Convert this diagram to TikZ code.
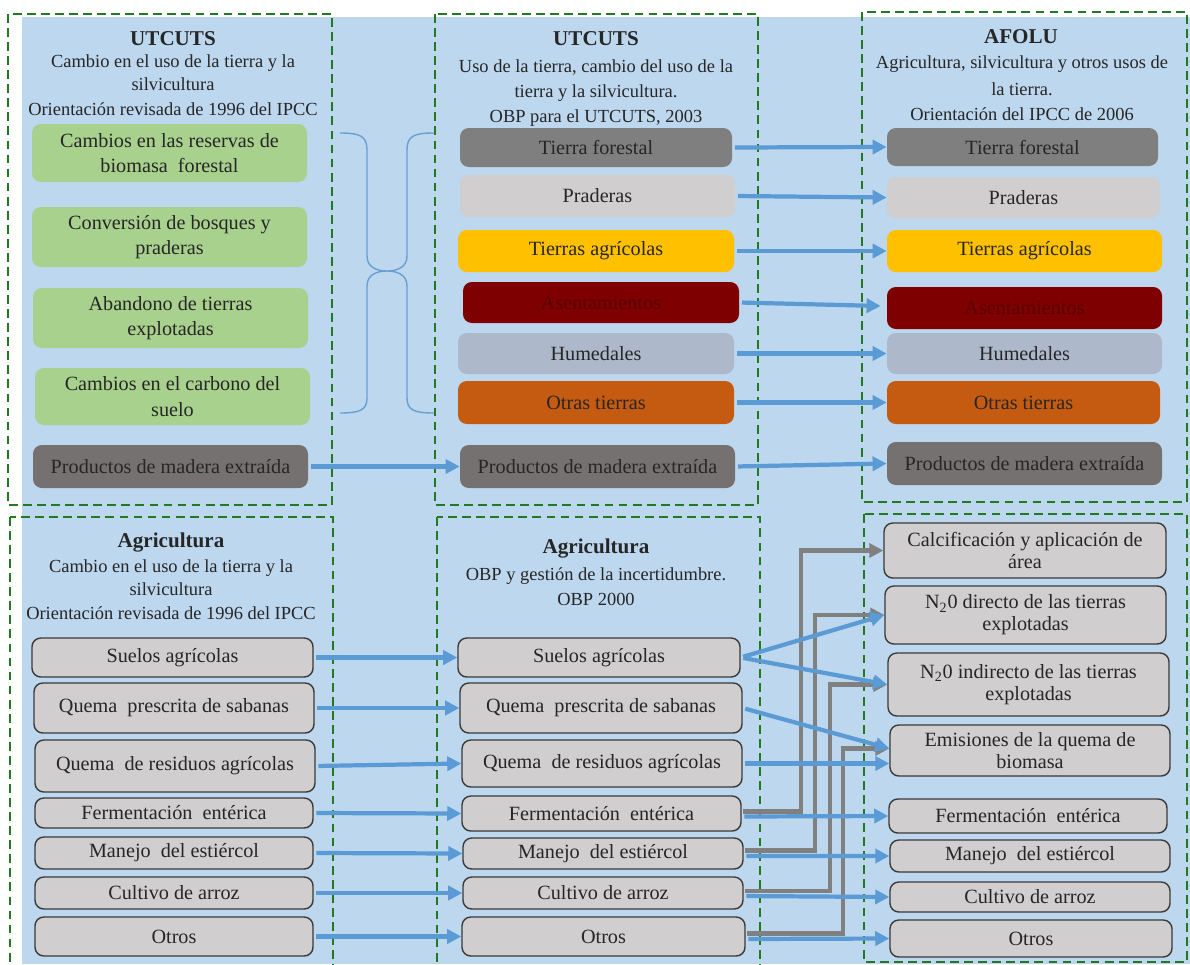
\documentclass[tikz,border=0pt]{standalone}
\usepackage{fontspec}
\setmainfont{Liberation Serif}
\usetikzlibrary{arrows.meta,calc}
\definecolor{bg}{HTML}{BDD7EE}
\definecolor{dgreen}{HTML}{217A21}
\definecolor{cgreen}{HTML}{A9D18E}
\definecolor{cforest}{HTML}{7F7F7F}
\definecolor{cprad}{HTML}{D0CECE}
\definecolor{cagri}{HTML}{FFC000}
\definecolor{casen}{HTML}{7F0000}
\definecolor{casentext}{HTML}{5A0000}
\definecolor{chum}{HTML}{ADB9CA}
\definecolor{cotras}{HTML}{C55A11}
\definecolor{cprod}{HTML}{767171}
\definecolor{cgbox}{HTML}{D0CECE}
\definecolor{cborder}{HTML}{3A3A3A}
\definecolor{ctext}{HTML}{262626}
\definecolor{cblue}{HTML}{5B9BD5}
\definecolor{cgray}{HTML}{808080}
\definecolor{cbrace}{HTML}{6A9FD4}
\newcommand{\mybox}[7]{\node[#6, minimum width={(#4-#2)*0.02cm}, minimum height={(#5-#3)*0.02cm}] (#1) at ({(#2+#4)/2},{(#3+#5)/2}) {#7};}
\newcommand{\ttl}[5]{\node[titletext,#4] (#1) at (#2,#3) {#5};}
\begin{document}
\begin{tikzpicture}[x=0.02cm,y=-0.02cm,
  gbox/.style={fill=cgreen, rounded corners=5pt, align=center, text=ctext, inner sep=1pt, font=\fontsize{11.5}{14.5}\selectfont},
  cbox/.style={rounded corners=5pt, align=center, text=ctext, inner sep=1pt, font=\fontsize{11.5}{14}\selectfont},
  abox/.style={fill=cgbox, draw=cborder, line width=0.8pt, rounded corners=5pt, align=center, text=ctext, inner sep=1pt, font=\fontsize{11.5}{12.5}\selectfont},
  titletext/.style={anchor=base, text=ctext, inner sep=0pt, font=\fontsize{10.5}{12}\selectfont},
  titlebold/.style={font=\fontsize{12}{14}\selectfont\bfseries},
  dbox/.style={draw=dgreen, line width=1.2pt, dash pattern=on 5pt off 3pt},
  barrow/.style={draw=cblue, line width=2.4pt, -{Triangle[length=8pt,width=8pt]}, shorten <=1.5pt},
  garrow/.style={draw=cgray, line width=2.7pt, -{Triangle[length=8pt,width=8pt]}, shorten <=1pt},
  bracestyle/.style={draw=cbrace, line width=0.8pt}
]
\useasboundingbox (0,0) rectangle (1190,964);
\fill[bg] (22,17) rectangle (1190,964);

% dashed frames
\draw[dbox] (8,14) rectangle (332,505);
\draw[dbox] (435,14) rectangle (758,505);
\draw[dbox] (862,12) rectangle (1187,502);
\draw[dbox] (10,517) rectangle (333,970);
\draw[dbox] (437,517) rectangle (760,970);
\draw[dbox] (864,514) rectangle (1187,962);

% titles
\ttl{t1a}{173}{45}{titlebold}{UTCUTS}
\ttl{t1b}{173}{67}{}{Cambio en el uso de la tierra y la}
\ttl{t1c}{173}{90}{}{silvicultura}
\ttl{t1d}{173}{115}{}{Orientación revisada de 1996 del IPCC}

\ttl{t2a}{596}{45}{titlebold}{UTCUTS}
\ttl{t2b}{596}{72}{}{Uso de la tierra, cambio del uso de la}
\ttl{t2c}{596}{97}{}{tierra y la silvicultura.}
\ttl{t2d}{596}{122}{}{OBP para el UTCUTS, 2003}

\ttl{t3a}{1021}{43}{titlebold}{AFOLU}
\ttl{t3b}{1022}{68}{}{Agricultura, silvicultura y otros usos de}
\ttl{t3c}{1022}{95}{}{la tierra.}
\ttl{t3d}{1022}{120}{}{Orientación del IPCC de 2006}

\ttl{t4a}{171}{547}{titlebold}{Agricultura}
\ttl{t4b}{171}{572}{}{Cambio en el uso de la tierra y la}
\ttl{t4c}{171}{595}{}{silvicultura}
\ttl{t4d}{171}{619}{}{Orientación revisada de 1996 del IPCC}

\ttl{t5a}{596}{553}{titlebold}{Agricultura}
\ttl{t5b}{596}{580}{}{OBP y gestión de la incertidumbre.}
\ttl{t5c}{596}{605}{}{OBP 2000}

% top-left nodes
\mybox{g1}{32}{124}{307}{182}{gbox}{Cambios en las reservas de\\biomasa\ \ forestal}
\mybox{g2}{32}{207}{307}{267}{gbox}{Conversión de bosques y\\praderas}
\mybox{g3}{33}{288}{308}{348}{gbox}{Abandono de tierras\\explotadas}
\mybox{g4}{35}{368}{310}{425}{gbox}{Cambios en el carbono del\\suelo}
\mybox{pL}{33}{445}{308}{488}{cbox,fill=cprod}{Productos de madera extraída}

% top-middle nodes
\mybox{tfM}{460}{128}{732}{167}{cbox,fill=cforest}{Tierra forestal}
\mybox{prM}{460}{175}{735}{217}{cbox,fill=cprad}{Praderas}
\mybox{taM}{458}{230}{734}{272}{cbox,fill=cagri}{Tierras agrícolas}
\mybox{asM}{463}{282}{739}{323}{cbox,fill=casen,text=casentext}{Asentamientos}
\mybox{huM}{458}{333}{734}{374}{cbox,fill=chum}{Humedales}
\mybox{otM}{458}{381}{734}{424}{cbox,fill=cotras}{Otras tierras}
\mybox{pM}{460}{445}{735}{488}{cbox,fill=cprod}{Productos de madera extraída}

% top-right nodes
\mybox{tfR}{887}{128}{1158}{166}{cbox,fill=cforest}{Tierra forestal}
\mybox{prR}{887}{177}{1160}{218}{cbox,fill=cprad}{Praderas}
\mybox{taR}{887}{230}{1162}{272}{cbox,fill=cagri}{Tierras agrícolas}
\mybox{asR}{887}{287}{1162}{329}{cbox,fill=casen,text=casentext}{Asentamientos}
\mybox{huR}{887}{333}{1162}{374}{cbox,fill=chum}{Humedales}
\mybox{otR}{887}{381}{1160}{424}{cbox,fill=cotras}{Otras tierras}
\mybox{pR}{887}{442}{1162}{485}{cbox,fill=cprod}{Productos de madera extraída}

% braces
\draw[bracestyle] (340,133) .. controls (360,133) and (367,136) .. (367,150) -- (367,256)
  .. controls (367,268) and (378,271) .. (387,271)
  .. controls (378,271) and (367,274) .. (367,286) -- (367,398)
  .. controls (367,410) and (360,413) .. (340,413);
\draw[bracestyle] (434,133) .. controls (414,133) and (407,136) .. (407,150) -- (407,256)
  .. controls (407,268) and (396,271) .. (387,271)
  .. controls (396,271) and (407,274) .. (407,286) -- (407,398)
  .. controls (407,410) and (414,413) .. (434,413);

% top arrows
\draw[barrow] (pL.east) -- (pM.west);
\draw[barrow] (tfM.east) -- (tfR.west);
\draw[barrow] (prM.east) -- (prR.west);
\draw[barrow] (taM.east) -- (taR.west);
\draw[barrow] (asM.east) -- ($(asR.west)+(-6,-2)$);
\draw[barrow] (huM.east) -- (huR.west);
\draw[barrow] (otM.east) -- (otR.west);
\draw[barrow] (pM.east) -- (pR.west);

% bottom-left nodes
\mybox{sL}{32}{638}{313}{677}{abox}{Suelos agrícolas}
\mybox{qpL}{34}{683}{314}{733}{abox}{Quema\ \ prescrita\ de\ sabanas}
\mybox{qrL}{35}{740}{315}{792}{abox}{Quema\ \ de\ residuos\ agrícolas}
\mybox{feL}{35}{798}{313}{828}{abox}{Fermentación\ \ entérica}
\mybox{maL}{35}{837}{313}{869}{abox}{Manejo\ \ del estiércol}
\mybox{caL}{35}{877}{313}{909}{abox}{Cultivo de arroz}
\mybox{oL}{35}{917}{313}{956}{abox}{Otros}

% bottom-middle nodes
\mybox{sM}{458}{638}{740}{677}{abox}{Suelos agrícolas}
\mybox{qpM}{460}{683}{742}{733}{abox}{Quema\ \ prescrita\ de\ sabanas}
\mybox{qrM}{462}{740}{742}{787}{abox}{Quema\ \ de\ residuos\ agrícolas}
\mybox{feM}{462}{796}{741}{831}{abox}{Fermentación\ \ entérica}
\mybox{maM}{463}{838}{743}{869}{abox}{Manejo\ \ del estiércol}
\mybox{caM}{463}{877}{743}{909}{abox}{Cultivo de arroz}
\mybox{oM}{462}{917}{745}{956}{abox}{Otros}

% bottom-right nodes
\mybox{calR}{884}{523}{1166}{578}{abox}{Calcificación y aplicación de\\área}
\mybox{ndR}{885}{586}{1166}{644}{abox}{N\textsubscript{2}0 directo de las tierras\\explotadas}
\mybox{niR}{888}{653}{1169}{716}{abox}{N\textsubscript{2}0 indirecto de las tierras\\explotadas}
\mybox{emR}{890}{725}{1170}{776}{abox}{Emisiones\ de la quema de\\biomasa}
\mybox{feR}{889}{799}{1167}{833}{abox}{Fermentación\ \ entérica}
\mybox{maR}{890}{840}{1170}{872}{abox}{Manejo\ \ del estiércol}
\mybox{caR}{890}{882}{1170}{912}{abox}{Cultivo de arroz}
\mybox{oR}{890}{920}{1172}{957}{abox}{Otros}

% left -> middle arrows (bottom)
\draw[barrow] (sL.east) -- (sM.west);
\draw[barrow] (qpL.east) -- (qpM.west);
\draw[barrow] (qrL.east) -- (qrM.west);
\draw[barrow] (feL.east) -- (feM.west);
\draw[barrow] (maL.east) -- (maM.west);
\draw[barrow] (caL.east) -- (caM.west);
\draw[barrow] (oL.east) -- (oM.west);

% gray elbow connectors
\coordinate (k1) at (801,550.5);
\coordinate (k2) at (815,615);
\coordinate (k3) at (830,684.5);
\coordinate (k4) at (843,748.5);
\draw[garrow] ($(feM.east)+(0,-2)$) -| (k1) -- (calR.west);
\draw[garrow] ($(maM.east)+(0,-3)$) -| (k2) -- (ndR.west);
\draw[garrow] ($(caM.east)+(0,-2)$) -| (k3) -- (niR.west);
\draw[garrow] ($(oM.east)+(0,-3)$) -| (k4) -- ($(emR.west)+(0,-2)$);

% middle -> right blue arrows
\draw[barrow] (sM.east) -- (ndR.west);
\draw[barrow] (sM.east) -- (niR.west);
\draw[barrow] (qpM.east) -- ($(emR.west)+(0,-2)$);
\draw[barrow] (qrM.east) -- (qrM.east -| emR.west);
\draw[barrow] ($(feM.east)+(0,3)$) -- (feR.west);
\draw[barrow] ($(maM.east)+(0,2.5)$) -- (maR.west);
\draw[barrow] ($(caM.east)+(0,3)$) -- (caR.west);
\draw[barrow] ($(oM.east)+(0,2.5)$) -- (oR.west);
\end{tikzpicture}
\end{document}
